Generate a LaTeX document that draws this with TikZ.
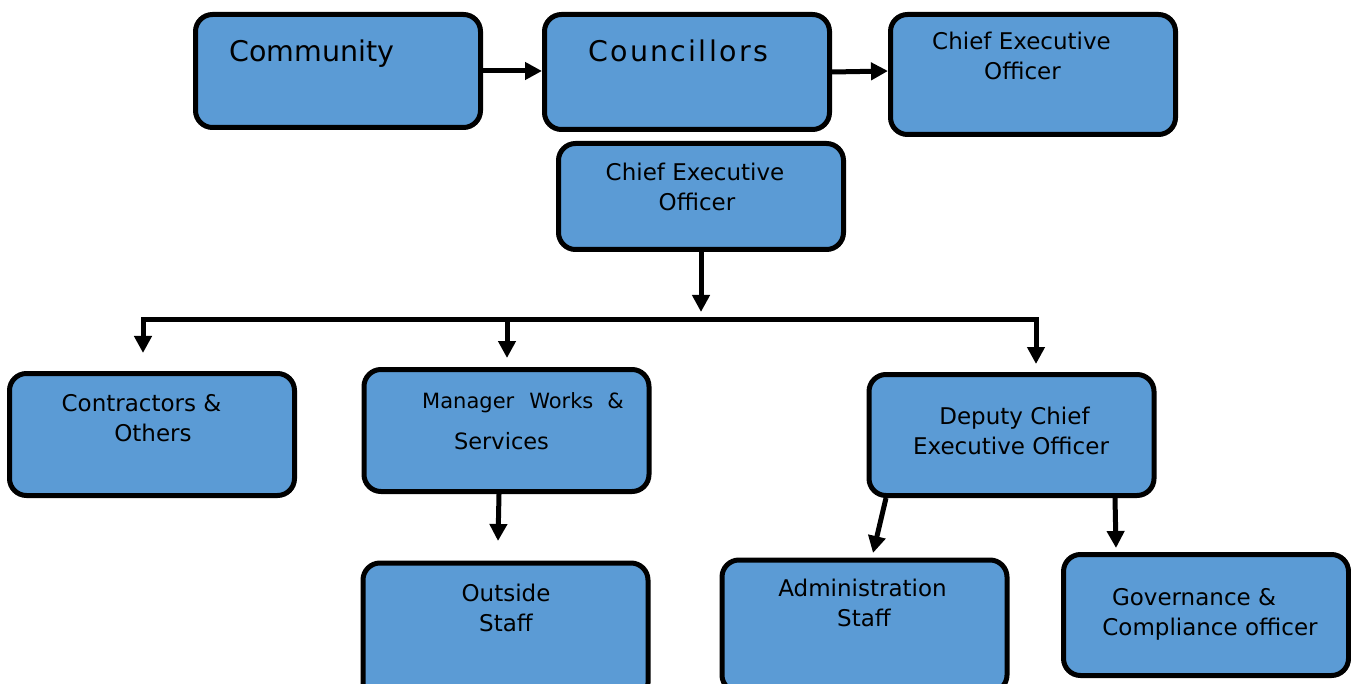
\documentclass[tikz,border=0pt]{standalone}
\usepackage{fontspec}
\setmainfont{DejaVu Sans}
\newfontfamily\spacedfont[LetterSpace=8]{DejaVu Sans}
\usetikzlibrary{arrows.meta}
\definecolor{boxblue}{HTML}{5B9BD5}
\tikzset{
  box/.style={draw=black, line width=5pt, fill=boxblue, rounded corners=17pt,
    inner sep=0pt, minimum width=285pt},
  txt/.style={anchor=base, inner sep=0pt, text=black,
    font=\fontsize{23}{28}\selectfont},
  bigtxt/.style={anchor=base, inner sep=0pt, text=black,
    font=\fontsize{28.5}{34}\selectfont},
  arr/.style={line width=5pt, -{Triangle[width=17pt,length=17pt]}},
  bus/.style={line width=5pt, line cap=rect}
}
\begin{document}
\begin{tikzpicture}[x=1pt,y=-1pt]
\useasboundingbox (0,0) rectangle (1351,684);
\clip (0,0) rectangle (1351,684);

% boxes
\node[box, minimum height=113pt] (comm) at (338,71) {};
\node[box, minimum height=115pt] (coun) at (687,72) {};
\node[box, minimum height=120pt] (ceoA) at (1033,74.5) {};
\node[box, minimum height=106pt] (ceoB) at (701,196.5) {};
\node[box, minimum height=122pt] (contr) at (152,434.5) {};
\node[box, minimum height=122pt] (mgr) at (506.5,430.5) {};
\node[box, minimum height=121pt] (dep) at (1011.5,435) {};
\node[box, minimum height=137pt] (outs) at (505.5,631.5) {};
\node[box, minimum height=132pt] (adm) at (864.5,626) {};
\node[box, minimum height=121pt] (gov) at (1206,615) {};

% labels
\node[bigtxt] (comm-t) at (312,62) {Community};
\node[bigtxt] (coun-t) at (678,62) {\spacedfont Councillors};
\node[txt] (ceoA-t1) at (1021.5,50) {Chief Executive};
\node[txt] (ceoA-t2) at (1022.5,80) {Officer};
\node[txt] (ceoB-t1) at (695,181) {Chief Executive};
\node[txt] (ceoB-t2) at (697,211) {Officer};
\node[txt] (contr-t1) at (141.5,411) {Contractors \&};
\node[txt] (contr-t2) at (153,441) {Others};
\node[txt, font=\fontsize{21}{26}\selectfont] (mgr-t1) at (523,408)
  {Manager\hspace{15pt}Works\hspace{14pt}\&};
\node[txt, font=\fontsize{22.5}{27}\selectfont] (mgr-t2) at (501.5,449) {Services};
\node[txt] (dep-t1) at (1014.5,424) {Deputy Chief};
\node[txt] (dep-t2) at (1011,454) {Executive Officer};
\node[txt] (outs-t1) at (506,601) {Outside};
\node[txt] (outs-t2) at (506,631) {Staff};
\node[txt] (adm-t1) at (862.5,596) {Administration};
\node[txt] (adm-t2) at (864,626) {Staff};
\node[txt] (gov-t1) at (1194,605) {Governance \&};
\node[txt] (gov-t2) at (1210,635) {Compliance officer};

% connector points
\coordinate (ceoBout) at (701,250);
\coordinate (ceoBtip) at (701,312);
\coordinate (busL) at (143,320);
\coordinate (busM) at (507,320);
\coordinate (busR) at (1036,320);
\coordinate (contrTip) at (143,353);
\coordinate (mgrTip) at (507,358);
\coordinate (depTip) at (1036,364);
\coordinate (mgrOut) at (499,494);
\coordinate (outsTip) at (498,541);
\coordinate (depOutL) at (886,498);
\coordinate (admTip) at (873,553);
\coordinate (depOutR) at (1115,498);
\coordinate (govTip) at (1116,548);

% connectors
\draw[arr] (comm.east) -- (comm.east -| coun.west);
\draw[arr] (coun.east) -- (ceoA.west |- 0,71);
\draw[arr] (ceoBout) -- (ceoBtip);
\draw[bus] (busL) -- (busR);
\draw[arr] (busL) -- (contrTip);
\draw[arr] (busM) -- (mgrTip);
\draw[arr] (busR) -- (depTip);
\draw[arr] (mgrOut) -- (outsTip);
\draw[arr] (depOutL) -- (admTip);
\draw[arr] (depOutR) -- (govTip);
\end{tikzpicture}
\end{document}
